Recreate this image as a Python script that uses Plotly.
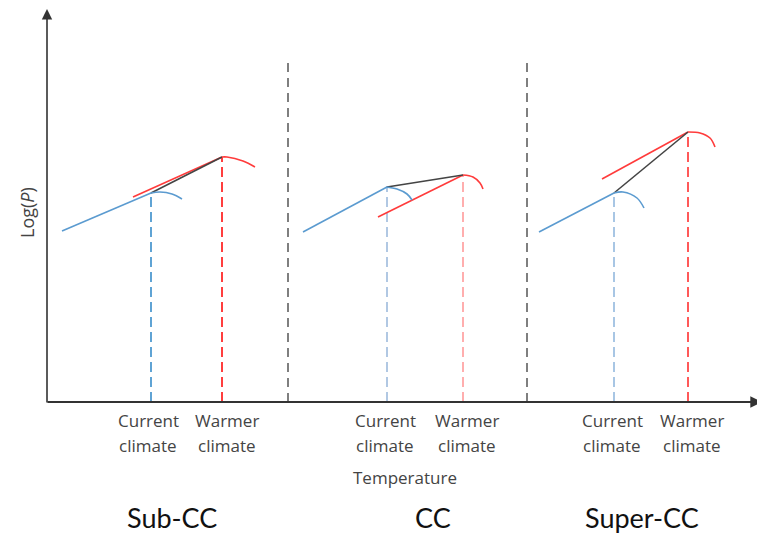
import plotly.graph_objects as go

# ---- data (units: temperature / log(P), origin at axes corner) ----
panels = ["Sub-CC", "CC", "Super-CC"]
panel_label_x = [125, 386, 595]
current_x = [104, 340, 567]
current_y = [209, 215, 209]
warmer_x = [175, 416, 641]
warmer_y = [245, 227, 270]
blue_start_x = [15, 256, 492]
blue_start_y = [171, 170, 170]
red_start_x = [86, 331, 555]
red_start_y = [205, 185, 223]
blue_arc_x = [[104, 113, 125, 135], [339, 350, 360, 365], [567, 576, 590, 597]]
blue_arc_y = [[209, 210, 208, 203], [215, 213, 208, 202], [209, 210, 204, 194]]
red_arc_x = [[175, 180, 196, 208], [416, 426, 433, 436], [641, 653, 663, 668]]
red_arc_y = [[245, 245, 241, 235], [227, 225, 219, 213], [270, 269, 264, 255]]
separator_x = [241, 480]
separator_top = 342
tick_current_x = [101, 338, 565]
tick_warmer_x = [180, 420, 645]
x_axis_end = 715
y_axis_end = 393

blue_line = "#5b9bd0"
red_line = "#ff3b3b"
vert_blue = ["#4f9ad0", "#a9c3e0", "#9fc0e2"]
vert_red = ["#ff2a2a", "#ffa6a6", "#ff4848"]

fig = go.Figure()

def line(x, y, color, width=1.6, dash=None, shape="linear"):
    fig.add_trace(go.Scatter(x=x, y=y, mode="lines", hoverinfo="skip",
                             line=dict(color=color, width=width, dash=dash, shape=shape),
                             showlegend=False, cliponaxis=False))

for sx in separator_x:
    line([sx, sx], [0, separator_top], "#555555", 1.5, "9px,6px")

for i in range(3):
    # vertical dashed lines
    line([current_x[i], current_x[i]], [0, current_y[i]], vert_blue[i], 1.8, "10px,5px")
    line([warmer_x[i], warmer_x[i]], [0, warmer_y[i]], vert_red[i], 1.8, "10px,5px")
    # current climate scaling
    line([blue_start_x[i], current_x[i]], [blue_start_y[i], current_y[i]], blue_line)
    # warmer climate scaling
    line([red_start_x[i], warmer_x[i]], [red_start_y[i], warmer_y[i]], red_line)
    # change between climates
    line([current_x[i], warmer_x[i]], [current_y[i], warmer_y[i]], "#444444", 1.6)
    # arcs
    line(blue_arc_x[i], blue_arc_y[i], blue_line, 1.6, None, "spline")
    line(red_arc_x[i], red_arc_y[i], red_line, 1.6, None, "spline")

ann = []
# axes arrows
ann.append(dict(x=0, y=y_axis_end, ax=0, ay=-2, xref="x", yref="y", axref="x", ayref="y",
                text="", showarrow=True, arrowhead=2, arrowsize=1.3, arrowwidth=1.6,
                arrowcolor="#333333"))
ann.append(dict(x=x_axis_end, y=0, ax=-1, ay=0, xref="x", yref="y", axref="x", ayref="y",
                text="", showarrow=True, arrowhead=2, arrowsize=1.3, arrowwidth=1.8,
                arrowcolor="#333333"))

tick_font = dict(family="Open Sans", size=17, color="#444444")
for i in range(3):
    for tx, word in ((tick_current_x[i], "Current"), (tick_warmer_x[i], "Warmer")):
        ann.append(dict(x=tx, y=-18, text=word, showarrow=False, font=tick_font,
                        xanchor="center", yanchor="middle"))
        ann.append(dict(x=tx, y=-43, text="climate", showarrow=False, font=tick_font,
                        xanchor="center", yanchor="middle"))
    ann.append(dict(x=panel_label_x[i], y=-115, text=panels[i], showarrow=False,
                    font=dict(family="Lato", size=27, color="#111111"),
                    xanchor="center", yanchor="middle"))

ann.append(dict(x=358, y=-75, text="Temperature", showarrow=False,
                font=dict(family="Open Sans", size=17, color="#444444"),
                xanchor="center", yanchor="middle"))
ann.append(dict(x=-20, y=189, text="Log(<i>P</i>)", showarrow=False, textangle=-90,
                font=dict(family="Open Sans", size=18, color="#444444"),
                xanchor="center", yanchor="middle"))

# the page adds an 8px body margin, so the figure is sized to the remaining area
fig.update_layout(
    width=757, height=525, margin=dict(l=0, r=0, t=0, b=0),
    paper_bgcolor="white", plot_bgcolor="white",
    xaxis=dict(range=[-39, 718], visible=False, fixedrange=True),
    yaxis=dict(range=[-131, 394], visible=False, fixedrange=True),
    annotations=ann,
)

fig.write_html("out.html")
